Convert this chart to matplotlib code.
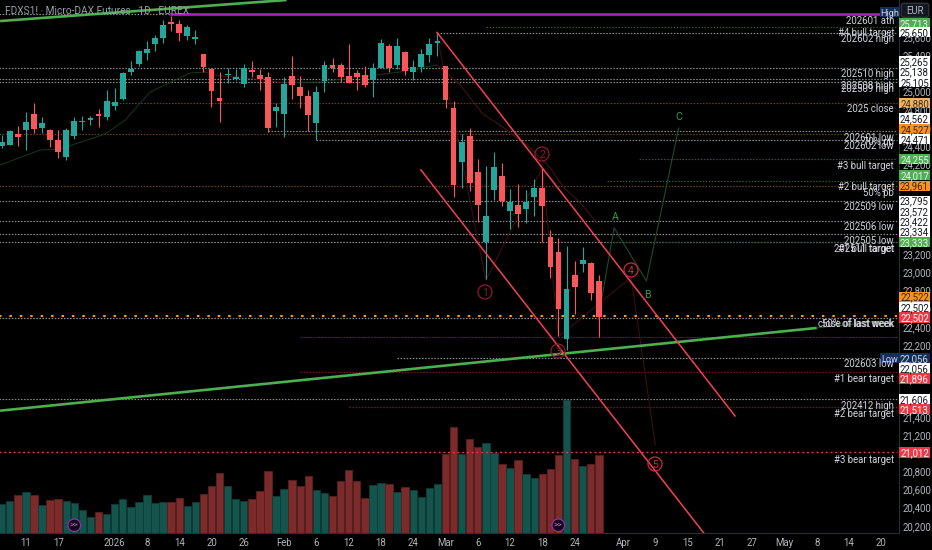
import matplotlib
matplotlib.use("Agg")
import logging
import numpy as np
import matplotlib.pyplot as plt
from matplotlib.patches import Circle, FancyBboxPatch, Rectangle

logging.getLogger("matplotlib.font_manager").setLevel(logging.ERROR)

# daily candles, one per session
opens = [24403, 24410, 24535, 24576, 24752, 24598, 24576, 24469, 24278, 24510,
         24664, 24683, 24752, 24716, 24841, 24914, 25223, 25304, 25426, 25525,
         25591, 25768, 25746, 25614, 25580, 25415, 25246, 24929, 25183, 25135,
         25087, 25245, 25183, 25164, 24782, 24756, 25172, 25050, 24951, 24649,
         25117, 25290, 25297, 25179, 25212, 25190, 25124, 25267, 25503, 25290,
         25437, 25223, 25271, 25404, 25540, 25279, 24819, 24226, 24513, 24109,
         23336, 23914, 24068, 23685, 23748, 23700, 23833, 23932, 23395, 23229,
         22261, 22968, 23093, 23104, 22905]
highs = [24521, 24576, 24620, 24775, 24870, 24719, 24583, 24576, 24602, 24716,
         24734, 24734, 24804, 25017, 25039, 25216, 25338, 25459, 25566, 25625,
         25798, 25834, 25798, 25735, 25687, 25422, 25257, 25216, 25264, 25246,
         25304, 25334, 25256, 25220, 24877, 25157, 25400, 25172, 25017, 25065,
         25334, 25370, 25319, 25525, 25245, 25286, 25312, 25580, 25532, 25591,
         25451, 25348, 25470, 25599, 25651, 25283, 24900, 24532, 24594, 24252,
         24179, 24337, 24215, 23921, 23980, 23914, 24035, 24153, 23472, 23380,
         23295, 23130, 23281, 23115, 22975]
lows = [24373, 24407, 24399, 24355, 24546, 24539, 24384, 24263, 24245, 24480,
        24576, 24627, 24613, 24686, 24797, 24911, 25187, 25282, 25349, 25452,
        25540, 25672, 25562, 25569, 25525, 25220, 24833, 24668, 25091, 25128,
        25054, 25157, 25017, 24557, 24612, 24502, 24914, 24822, 24568, 24465,
        24999, 25220, 25109, 25094, 25014, 25054, 24944, 25264, 25220, 25256,
        25183, 25128, 25220, 25330, 25393, 24815, 23833, 23939, 23903, 23564,
        22931, 23803, 23741, 23479, 23509, 23546, 23627, 23336, 22942, 22294,
        22147, 22545, 23008, 22699, 22287]
closes = [24447, 24568, 24495, 24668, 24591, 24649, 24469, 24337, 24576, 24675,
          24679, 24708, 24734, 24900, 24881, 25212, 25246, 25448, 25470, 25599,
          25739, 25750, 25654, 25713, 25603, 25275, 25006, 24896, 25194, 25165,
          25260, 25216, 25139, 24594, 24826, 25083, 25069, 24951, 24738, 25002,
          25290, 25267, 25157, 25094, 25161, 25076, 25260, 25543, 25264, 25503,
          25234, 25271, 25422, 25525, 25559, 24904, 23969, 24447, 23987, 23752,
          23623, 24164, 23796, 23781, 23645, 23781, 23936, 23741, 23060, 22592,
          22821, 22835, 23141, 22769, 22508]
volumes = [87, 96, 114, 123, 114, 85, 100, 102, 98, 91, 69, 49, 65, 58, 88,
           103, 79, 94, 114, 90, 93, 93, 106, 83, 93, 118, 141, 181, 141, 103,
           96, 103, 127, 187, 112, 132, 160, 141, 172, 130, 122, 112, 158, 190,
           158, 107, 145, 150, 147, 123, 139, 130, 110, 135, 147, 238, 320, 238,
           284, 260, 271, 240, 208, 197, 219, 178, 166, 179, 192, 235, 400, 222,
           203, 208, 235]

# date axis: bar number, label
date_pos = [3, 7, 14, 18, 22, 26, 30, 35, 39, 43, 47, 51, 55, 59, 63, 67, 71,
            77, 81, 85, 89, 93, 97, 101, 105, 109]
date_labels = ["11", "17", "2026", "8", "14", "20", "26", "Feb", "6", "12", "18",
               "24", "Mar", "6", "12", "18", "24", "Apr", "9", "15", "21", "27",
               "May", "8", "14", "20"]
price_ticks = [25600, 25400, 25000, 24800, 24600, 24400, 24200, 23200, 23000,
               22800, 22600, 22400, 22200, 21400, 21200, 20800, 20600, 20400,
               20200]

# horizontal levels: price, first bar
grey_levels = [(25856, -1, 21), (25650, 54, 111), (25265, -1, 111), (25138, -1, 111),
               (25105, -1, 111), (24562, 33, 111), (24471, 39, 111), (23795, -1, 111),
               (23572, -1, 111), (23422, -1, 111), (23334, -1, 111), (22502, -1, 111),
               (22056, 49, 111), (21606, -1, 111)]
orange_levels = [(24880, 13), (24527, -1), (23961, -1)]
green_levels = [(25713, 60), (24255, 79), (24017, 75), (23333, 75)]
dimred_levels = [(21896, 37), (21513, 43), (22288, 37)]
high_price = 25856
big_orange = 22522
bear_3 = 21012

# drawings, in bar number / price
channel_upper = ([53.94, 90.87], [25656, 21414])
channel_lower = ([51.96, 87.0], [24134, 20120])
green_top = ([-0.2, 35.3], [25781, 26014])
green_long = ([-0.2, 101.0], [21472, 22387])
green_long_ext = ([101.0, 109.0], [22387, 22464])
ma_green_1 = ([-0.2, 4.75, 7.2, 12.8, 15.3, 18.4, 23.3, 25.2],
              [24189, 24355, 24366, 24532, 24687, 24996, 25206, 25218])
ma_red_1 = ([25.2, 27.05, 29.5, 35.1], [25218, 25173, 25162, 25096])
ma_green_2 = ([35.1, 39.4, 49.4, 53.9], [25096, 25107, 25218, 25295])
ma_red_2 = ([53.9, 56.8, 59.6, 61.75, 65.5, 67.9, 69.6, 71.7, 73.8],
            [25295, 25080, 24755, 24631, 24377, 24167, 23946, 23769, 23548])
wave_red = ([53.9, 60.0, 67.0, 69.0, 78.0, 81.0],
            [25645, 22915, 24160, 22290, 22945, 21095])
wave_green = ([73.9, 75.9, 79.9, 83.9], [22476, 23493, 22907, 24598])

BG = "#000000"
TXT = "#b2b5be"
TEAL = "#26a69a"
RED = "#f9575a"
NARROW = ["Liberation Sans Narrow", "Roboto", "DejaVu Sans"]
plt.rcParams["font.family"] = ["Roboto", "DejaVu Sans"]

fig = plt.figure(figsize=(9.32, 5.5), dpi=100, facecolor=BG)
ax = fig.add_axes([0, (550 - 533.3) / 550, 899 / 932, 533.3 / 550], facecolor=BG)
ax.set_xlim(-0.21, 111.2)
ax.set_ylim(20116, 26014)

x = np.arange(len(opens))
o, h, l, c = map(np.array, (opens, highs, lows, closes))
up = c >= o

# volume on its own scale at the bottom
vol_ax = ax.twinx()
vol_ax.set_ylim(0, 1600)
vol_ax.axis("off")
vol_ax.bar(x, volumes, width=0.92, color=np.where(up, "#14544c", "#7c2b2b"),
           edgecolor=np.where(up, "#0e3d37", "#5a1f1f"), linewidth=0.6, zorder=1)
ax.set_zorder(vol_ax.get_zorder() + 1)
ax.patch.set_visible(False)
vol_ax.patch.set_facecolor(BG)
vol_ax.patch.set_visible(True)

dots = (0, (1.3, 1.3))
for price, start, end in grey_levels:
    ax.plot([start, end], [price, price], color="#8a8c92", lw=0.85, ls=dots, zorder=2)
for price, start in orange_levels:
    ax.plot([start, 111], [price, price], color="#6b4210", lw=0.85, ls=dots, zorder=2)
for price, start in green_levels:
    ax.plot([start, 111], [price, price], color="#2a5a30", lw=0.85, ls=dots, zorder=2)
for price, start in dimred_levels:
    ax.plot([start, 111], [price, price], color="#6e1a22", lw=0.85, ls=dots, zorder=2)
ax.plot([37, 111], [22288, 22288], color="#1c2c5c", lw=0.7, ls=dots, zorder=2)
ax.plot([21, 109], [high_price, high_price], color="#a624b8", lw=1.9, zorder=3)
ax.plot([-1, 111], [big_orange, big_orange], color="#ff9800", lw=1.5, ls=(0, (1.2, 3.8)), zorder=4)
ax.plot([-1, 111], [bear_3, bear_3], color="#f23645", lw=1.0, ls=(0, (1.4, 2.0)), zorder=4)

# indicator and wave lines
for line in (ma_green_1, ma_green_2):
    ax.plot(*line, color="#143a1c", lw=0.7, zorder=3)
for line in (ma_red_1, ma_red_2):
    ax.plot(*line, color="#4a1418", lw=0.7, zorder=3)
ax.plot(*wave_red, color="#3c0e13", lw=0.8, zorder=3)
ax.plot(*wave_green, color="#1d4d28", lw=0.8, zorder=3)

# candles
ax.vlines(x, l, h, colors=np.where(up, TEAL, RED), lw=0.8, zorder=5)
ax.bar(x, c - o, bottom=o, width=0.72, color=np.where(up, TEAL, RED), linewidth=0, zorder=5)

ax.plot(*green_top, color="#4caf50", lw=1.9, solid_capstyle="butt", zorder=6)
ax.plot(*green_long, color="#4caf50", lw=1.9, solid_capstyle="butt", zorder=6)
ax.plot(*green_long_ext, color="#1d4d28", lw=0.8, zorder=3)
ax.plot(*channel_upper, color="#f6404f", lw=1.1, zorder=6)
ax.plot(*channel_lower, color="#f6404f", lw=1.1, zorder=6)

ax.set_xticks(date_pos)
ax.set_xticklabels(date_labels)
ax.yaxis.tick_right()
ax.set_yticks(price_ticks)
ax.set_yticklabels([f"{v:,}" for v in price_ticks])
ax.tick_params(axis="x", length=0, pad=3.2, colors=TXT, labelsize=6.9)
ax.tick_params(axis="y", length=0, pad=2.5, colors=TXT, labelsize=6.9)
for side in ("top", "left"):
    ax.spines[side].set_visible(False)
for side in ("right", "bottom"):
    ax.spines[side].set_color("#2a2e39")
    ax.spines[side].set_linewidth(0.8)

# price tags, labels and icons sit in a pixel overlay
ov = fig.add_axes([0, 0, 1, 1], facecolor="none", zorder=20)
ov.set_xlim(0, 932)
ov.set_ylim(550, 0)
ov.axis("off")

GREEN_TAG = "#4caf50"
ORANGE_TAG = "#f7931e"
RED_TAG = "#f23645"
tags = [("25,713", 23, GREEN_TAG, "#e8f5e9"), ("25,650", 32, "white", "#131722"),
        ("25,265", 61, "white", "#131722"), ("25,138", 71.6, "white", "#131722"),
        ("25,105", 82, "white", "#131722"), ("24,880", 103, "#eeb264", "#4a2f10"),
        ("24,562", 118.5, "white", "#131722"), ("24,527", 128.8, ORANGE_TAG, "#3a2408"),
        ("24,471", 139, "white", "#131722"), ("24,255", 159, GREEN_TAG, "#e8f5e9"),
        ("24,017", 175, GREEN_TAG, "#e8f5e9"), ("23,961", 185.7, ORANGE_TAG, "#3a2408"),
        ("23,795", 200.7, "white", "#131722"), ("23,572", 211, "white", "#131722"),
        ("23,422", 221.3, "white", "#131722"), ("23,334", 231.7, "white", "#131722"),
        ("23,333", 242, GREEN_TAG, "#e8f5e9"), ("22,522", 296.7, ORANGE_TAG, "#3a2408"),
        ("22,502", 307, "white", "#131722"), ("22,502", 317.3, RED_TAG, "white"),
        ("22,056", 358, "#132e5c", "#d1d4dc"), ("22,056", 368, "white", "#131722"),
        ("21,896", 378.5, RED_TAG, "white"), ("21,606", 398.8, "white", "#131722"),
        ("21,513", 409, RED_TAG, "white"), ("21,012", 452.3, RED_TAG, "white")]
for text, y, bg, fg in tags:
    ov.add_patch(Rectangle((899, y - 5.2), 30.5, 10.4, facecolor=bg, edgecolor="none"))
    ov.text(914.5, y, text, color=fg, fontsize=6.9, ha="center", va="center_baseline")

ov.add_patch(FancyBboxPatch((902, 4), 26, 12.5, boxstyle="round,pad=0.8,rounding_size=2.5",
                            facecolor="#131722", edgecolor="#363a45", lw=0.8))
ov.text(915, 10.4, "EUR", color=TXT, fontsize=6.9, ha="center", va="center_baseline")
for label, y in (("High", 12), ("Low", 358)):
    ov.add_patch(Rectangle((880, y - 5.2), 19, 10.4, facecolor="#132e5c", edgecolor="none"))
    ov.text(889.5, y, label, color="#d1d4dc", fontsize=6.6, ha="center", va="center_baseline")

level_labels = [("202601 ath", 20), ("#4 bull target", 32), ("202602 high", 38.5),
                ("202510 high", 73), ("202508 high", 85), ("202509 high", 87.5),
                ("2025 close", 108), ("202601 low", 137), ("70% pb", 141),
                ("202602 low", 145), ("#3 bull target", 165), ("#2 bull target", 186),
                ("50% pb", 192), ("202509 low", 206), ("202506 low", 226),
                ("202505 low", 240), ("#1 bull target", 248), ("202511 target", 248),
                ("50% of last week", 323), ("close of last week", 323),
                ("202603 low", 363), ("#1 bear target", 378), ("202412 high", 405),
                ("#2 bear target", 413), ("#3 bear target", 459)]
for text, y in level_labels:
    ov.text(894, y, text, color="#d1d4dc", fontsize=6.9, family=NARROW, ha="right",
            va="center_baseline")

ov.text(5, 10, "FDXS1! · Micro-DAX Futures · 1D · EUREX", color="#9a9da6", fontsize=7.3,
        family=NARROW, ha="left", va="center_baseline")

waves = [("1", 485, 292, "#8f1a2a"), ("2", 542, 154, "#8f1a2a"), ("3", 558, 351, "#8f1a2a"),
         ("4", 631, 270, "#d02a3c"), ("5", 655, 464, "#d02a3c")]
for digit, px, py, col in waves:
    ov.add_patch(Circle((px, py), 7, facecolor="none", edgecolor=col, lw=0.9))
    ov.text(px, py, digit, color=col, fontsize=7.6, ha="center", va="center_baseline")
for letter, px, py in (("A", 615, 216), ("B", 647, 294), ("C", 679, 116)):
    ov.text(px, py, letter, color="#2e9e50", fontsize=7.6, ha="center", va="center_baseline")

for px in (74.3, 558.3):
    ov.add_patch(Circle((px, 525.3), 6.3, facecolor="#120a18", edgecolor="#9c27b0", lw=0.9))
    ov.text(px, 525.3, ">>", color="#c77dd6", fontsize=6, ha="center", va="center_baseline")

fig.savefig("out.png", dpi=100, facecolor=BG)
